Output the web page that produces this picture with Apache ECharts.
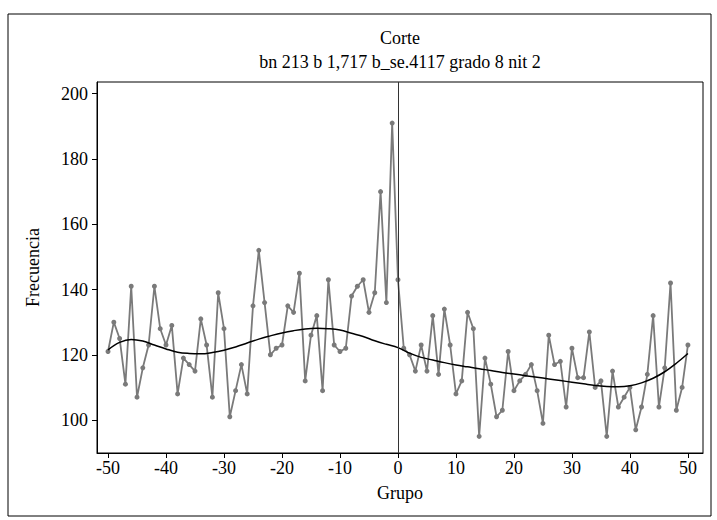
<!DOCTYPE html>
<html>
<head>
<meta charset="utf-8">
<script src="https://cdn.jsdelivr.net/npm/echarts@6/dist/echarts.min.js"></script>
<style>
html,body{margin:0;padding:0;background:#fff;}
#chart{width:717px;height:520px;}
</style>
</head>
<body>
<div id="chart"></div>
<script>
// Data
const grupos = [-50,-49,-48,-47,-46,-45,-44,-43,-42,-41,-40,-39,-38,-37,-36,-35,-34,-33,-32,-31,-30,-29,-28,-27,-26,-25,-24,-23,-22,-21,-20,-19,-18,-17,-16,-15,-14,-13,-12,-11,-10,-9,-8,-7,-6,-5,-4,-3,-2,-1,0,1,2,3,4,5,6,7,8,9,10,11,12,13,14,15,16,17,18,19,20,21,22,23,24,25,26,27,28,29,30,31,32,33,34,35,36,37,38,39,40,41,42,43,44,45,46,47,48,49,50];
const frecuencia = [121,130,125,111,141,107,116,123,141,128,123,129,108,119,117,115,131,123,107,139,128,101,109,117,108,135,152,136,120,122,123,135,133,145,112,126,132,109,143,123,121,122,138,141,143,133,139,170,136,191,143,122,120,115,123,115,132,114,134,123,108,112,133,128,95,119,111,101,103,121,109,112,114,117,109,99,126,117,118,104,122,113,113,127,110,112,95,115,104,107,110,97,104,114,132,104,116,142,103,110,123];
const ajusteX = [-50,-48,-46,-44,-42,-40,-38,-36,-34,-32,-30,-28,-26,-24,-22,-20,-18,-16,-14,-12,-10,-8,-6,-4,-2,0,2,4,6,8,10,12,14,16,18,20,22,24,26,28,30,32,34,36,38,40,42,44,46,48,50];
const ajusteY = [121.5,123.8,124.7,124.2,123.0,121.8,120.8,120.4,120.3,120.7,121.4,122.4,123.6,124.8,125.8,126.7,127.4,127.9,128.1,128.0,127.6,126.6,125.6,124.3,123.2,122.2,120.5,119.2,118.4,117.6,116.9,116.3,115.7,115.2,114.6,114.1,113.6,113.1,112.6,112.1,111.6,111.1,110.6,110.3,110.2,110.5,111.4,112.8,114.8,117.4,120.4];
const xTicks = [-50,-40,-30,-20,-10,0,10,20,30,40,50];
const yTicks = [100,120,140,160,180,200];
const corte = 0;
const titulo = 'Corte';
const subtitulo = 'bn 213 b 1,717 b_se.4117 grado 8 nit 2';

const FONT = '"Liberation Serif", "DejaVu Serif", serif';
const FS = 18;
const chart = echarts.init(document.getElementById('chart'), null, {renderer: 'svg'});

const option = {
  backgroundColor: '#fff',
  animation: false,
  textStyle: {fontFamily: FONT},
  graphic: [
    {type: 'rect', shape: {x: 8, y: 14, width: 703, height: 502}, style: {fill: 'none', stroke: '#000', lineWidth: 1}, z: 100},
    {type: 'text', x: 400, y: 38, style: {text: titulo, fontFamily: FONT, fontSize: FS, fill: '#000', align: 'center', verticalAlign: 'middle'}},
    {type: 'text', x: 400, y: 62, style: {text: subtitulo, fontFamily: FONT, fontSize: FS, fill: '#000', align: 'center', verticalAlign: 'middle'}}
  ],
  grid: {left: 97, right: 14, top: 82, bottom: 67, show: true, borderColor: '#000', borderWidth: 1, backgroundColor: 'transparent'},
  xAxis: {
    type: 'value', min: -51.9, max: 52.6,
    name: 'Grupo', nameLocation: 'middle', nameGap: 31,
    nameTextStyle: {fontFamily: FONT, fontSize: FS, color: '#000'},
    axisLine: {show: true, onZero: false, lineStyle: {color: '#000', width: 1}},
    axisTick: {show: true, length: 5, customValues: xTicks, lineStyle: {color: '#000'}},
    axisLabel: {fontFamily: FONT, fontSize: FS, color: '#000', margin: 6, customValues: xTicks},
    splitLine: {show: false}
  },
  yAxis: {
    type: 'value', min: 89.9, max: 203.6,
    name: 'Frecuencia', nameLocation: 'middle', nameGap: 55, nameRotate: 90,
    nameTextStyle: {fontFamily: FONT, fontSize: FS, color: '#000'},
    axisLine: {show: true, onZero: false, lineStyle: {color: '#000', width: 1}},
    axisTick: {show: true, length: 5, customValues: yTicks, lineStyle: {color: '#000'}},
    axisLabel: {fontFamily: FONT, fontSize: FS, color: '#000', margin: 9, customValues: yTicks},
    splitLine: {show: false}
  },
  series: [
    {
      type: 'line',
      data: grupos.map((g, i) => [g, frecuencia[i]]),
      symbol: 'circle', symbolSize: 5,
      lineStyle: {color: '#7a7a7a', width: 1.8},
      itemStyle: {color: '#7a7a7a'},
      z: 2,
      markLine: {
        silent: true, symbol: 'none', animation: false,
        label: {show: false},
        lineStyle: {color: '#333', width: 1, type: 'solid'},
        data: [{xAxis: corte}]
      }
    },
    {
      type: 'line',
      data: ajusteX.map((g, i) => [g, ajusteY[i]]),
      symbol: 'none', smooth: 0.4,
      lineStyle: {color: '#000', width: 1.5},
      z: 3
    }
  ]
};
chart.setOption(option);
</script>
</body>
</html>
